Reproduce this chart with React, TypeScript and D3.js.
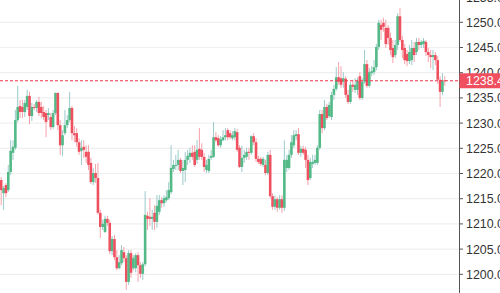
import React from "react";
import * as d3 from "d3";

// [open, high, low, close]
const ohlc: [number, number, number, number][] = [
  [1218.7, 1219.3, 1213.7, 1216.7], [1216.1, 1217.5, 1212.8, 1217.1], [1217.7, 1218.1, 1215.3, 1216.1],
  [1216.7, 1221.7, 1216.3, 1220.3], [1220.3, 1226.6, 1219.7, 1224.5], [1224.1, 1226.6, 1222.7, 1225.3],
  [1225.1, 1232.6, 1224.7, 1230.6], [1230.6, 1237.4, 1230.2, 1233.2], [1233.4, 1234.6, 1231.0, 1232.2],
  [1233.2, 1234.6, 1231.0, 1232.2], [1232.2, 1234.6, 1231.2, 1234.0], [1233.2, 1236.6, 1232.6, 1235.4],
  [1235.4, 1236.2, 1229.8, 1231.4], [1231.4, 1234.0, 1230.4, 1233.2], [1233.2, 1233.8, 1232.6, 1233.0],
  [1233.0, 1234.6, 1232.2, 1234.2], [1234.2, 1235.2, 1231.4, 1232.0], [1233.2, 1234.2, 1231.0, 1232.0],
  [1232.2, 1233.4, 1230.6, 1231.2], [1232.0, 1232.6, 1227.2, 1230.2], [1231.6, 1233.0, 1230.6, 1232.0],
  [1231.2, 1232.0, 1228.6, 1229.2], [1229.2, 1232.6, 1228.8, 1232.0], [1232.0, 1236.0, 1231.6, 1236.0],
  [1236.0, 1236.0, 1228.6, 1229.6], [1229.6, 1230.6, 1223.7, 1225.6], [1225.6, 1228.6, 1223.5, 1227.6],
  [1228.0, 1232.6, 1227.6, 1229.6], [1229.6, 1231.6, 1229.0, 1230.6], [1230.6, 1236.2, 1230.2, 1233.0],
  [1233.0, 1233.4, 1226.6, 1228.0], [1228.0, 1229.4, 1226.2, 1227.6], [1228.0, 1229.0, 1225.3, 1226.2],
  [1226.2, 1227.0, 1223.7, 1224.3], [1224.5, 1226.6, 1221.7, 1225.1], [1225.3, 1226.6, 1223.1, 1224.7],
  [1224.3, 1225.6, 1222.1, 1223.3], [1224.3, 1225.6, 1220.7, 1221.7], [1222.1, 1223.1, 1217.9, 1218.3],
  [1218.3, 1221.1, 1217.7, 1220.1], [1220.1, 1221.9, 1218.1, 1219.1], [1219.1, 1222.1, 1211.8, 1212.2],
  [1212.2, 1212.8, 1207.2, 1209.4], [1209.4, 1210.8, 1208.8, 1210.0], [1208.4, 1211.6, 1208.2, 1211.0],
  [1211.0, 1211.6, 1209.6, 1210.2], [1210.2, 1210.8, 1204.0, 1204.6], [1204.6, 1207.6, 1203.8, 1207.0],
  [1207.0, 1207.8, 1202.8, 1203.4], [1203.4, 1204.8, 1200.8, 1201.2], [1201.2, 1203.8, 1201.0, 1202.4],
  [1202.2, 1205.8, 1201.8, 1204.8], [1204.4, 1205.4, 1202.4, 1203.2], [1203.2, 1203.8, 1196.9, 1198.5],
  [1198.5, 1204.8, 1197.9, 1204.2], [1204.2, 1204.8, 1199.3, 1200.3], [1201.2, 1203.8, 1200.8, 1203.2],
  [1201.2, 1204.2, 1200.4, 1203.8], [1203.8, 1204.4, 1198.5, 1201.8], [1201.8, 1202.4, 1199.3, 1200.1],
  [1200.1, 1202.4, 1198.9, 1202.0], [1202.0, 1216.5, 1201.6, 1211.8], [1211.6, 1212.4, 1208.8, 1211.0],
  [1211.4, 1215.1, 1209.6, 1211.0], [1211.0, 1212.8, 1208.8, 1211.4], [1212.2, 1213.7, 1208.8, 1210.4],
  [1210.4, 1215.7, 1209.2, 1213.6], [1212.4, 1215.7, 1211.8, 1214.7], [1214.7, 1215.3, 1213.2, 1214.1],
  [1214.1, 1215.7, 1213.4, 1215.1], [1214.7, 1216.7, 1214.3, 1215.3], [1215.1, 1218.3, 1214.7, 1216.7],
  [1216.3, 1225.6, 1215.9, 1221.1], [1220.9, 1222.7, 1220.3, 1221.7], [1221.5, 1223.7, 1220.7, 1221.7],
  [1221.7, 1224.7, 1220.7, 1222.7], [1222.7, 1223.1, 1220.1, 1220.5], [1220.5, 1222.7, 1217.7, 1221.1],
  [1220.7, 1224.3, 1218.3, 1222.7], [1222.7, 1224.7, 1221.7, 1223.5], [1223.3, 1225.1, 1222.1, 1224.1],
  [1224.1, 1225.6, 1222.7, 1223.3], [1224.3, 1225.6, 1221.3, 1221.7], [1222.7, 1226.6, 1221.9, 1224.7],
  [1224.9, 1229.0, 1222.7, 1223.3], [1224.7, 1226.0, 1222.7, 1223.3], [1223.3, 1224.1, 1220.3, 1221.3],
  [1220.7, 1222.7, 1220.1, 1221.7], [1220.5, 1223.7, 1220.1, 1222.9], [1223.1, 1224.7, 1222.7, 1223.5],
  [1223.3, 1230.2, 1223.1, 1227.2], [1227.2, 1228.2, 1226.2, 1226.6], [1227.0, 1227.6, 1225.3, 1225.6],
  [1225.6, 1227.4, 1225.1, 1226.8], [1226.6, 1228.6, 1226.4, 1227.2], [1227.2, 1229.0, 1226.6, 1227.6],
  [1228.6, 1229.0, 1226.6, 1227.2], [1228.0, 1228.6, 1226.8, 1227.2], [1227.0, 1228.4, 1226.6, 1227.6],
  [1227.2, 1229.0, 1226.6, 1228.4], [1228.2, 1228.8, 1224.3, 1224.7], [1225.1, 1225.6, 1221.1, 1221.3],
  [1221.3, 1225.5, 1220.3, 1223.1], [1223.1, 1224.7, 1222.1, 1223.7], [1223.3, 1225.1, 1222.7, 1224.3],
  [1224.3, 1225.1, 1222.7, 1224.1], [1224.1, 1227.6, 1223.7, 1227.4], [1227.4, 1228.0, 1225.6, 1226.2],
  [1226.2, 1227.0, 1222.3, 1222.9], [1222.9, 1223.5, 1221.9, 1222.3], [1222.9, 1223.3, 1221.5, 1221.9],
  [1221.7, 1223.3, 1221.3, 1222.9], [1221.7, 1222.7, 1219.7, 1220.1], [1220.1, 1224.3, 1219.7, 1223.7],
  [1223.7, 1224.7, 1215.1, 1215.5], [1215.5, 1216.1, 1212.8, 1213.4], [1213.4, 1215.7, 1212.8, 1214.9],
  [1214.9, 1215.3, 1212.4, 1213.2], [1213.2, 1215.7, 1212.8, 1214.9], [1214.9, 1215.7, 1212.2, 1213.2],
  [1213.2, 1226.6, 1212.6, 1222.7], [1221.1, 1223.7, 1220.3, 1222.7], [1221.1, 1224.7, 1220.7, 1223.7],
  [1223.7, 1227.6, 1223.1, 1226.2], [1225.6, 1228.6, 1225.1, 1227.6], [1227.4, 1228.6, 1226.6, 1227.8],
  [1227.8, 1229.0, 1223.7, 1224.1], [1224.1, 1225.5, 1223.3, 1224.9], [1224.9, 1225.5, 1223.7, 1224.1],
  [1224.7, 1225.3, 1221.1, 1222.7], [1222.7, 1223.7, 1217.7, 1218.7], [1219.1, 1223.1, 1218.7, 1222.3],
  [1221.9, 1223.7, 1221.1, 1222.3], [1222.1, 1223.7, 1221.7, 1222.7], [1222.1, 1225.6, 1221.7, 1225.1],
  [1225.1, 1232.6, 1224.7, 1231.8], [1231.8, 1232.6, 1228.0, 1229.0], [1229.0, 1234.6, 1228.6, 1233.2],
  [1233.2, 1233.8, 1230.6, 1231.0], [1231.4, 1234.2, 1231.0, 1233.6], [1231.2, 1236.2, 1230.6, 1235.6],
  [1235.6, 1237.6, 1234.6, 1236.8], [1236.8, 1241.1, 1236.4, 1239.1], [1239.1, 1242.1, 1237.6, 1238.2],
  [1238.9, 1241.3, 1237.0, 1237.6], [1238.2, 1240.1, 1237.0, 1238.9], [1238.8, 1239.3, 1235.0, 1235.6],
  [1235.6, 1236.6, 1233.8, 1234.2], [1234.2, 1238.2, 1233.8, 1237.6], [1237.6, 1238.6, 1236.2, 1237.2],
  [1236.6, 1238.9, 1236.0, 1237.6], [1236.6, 1239.1, 1235.6, 1238.4], [1239.3, 1240.1, 1234.6, 1235.0],
  [1235.0, 1238.9, 1234.6, 1238.2], [1238.2, 1244.5, 1237.8, 1241.7], [1241.7, 1242.5, 1237.0, 1237.4],
  [1237.4, 1240.9, 1237.0, 1240.1], [1239.9, 1241.3, 1239.3, 1240.3], [1240.1, 1242.5, 1239.5, 1241.1],
  [1241.1, 1245.7, 1240.5, 1245.1], [1245.1, 1250.5, 1244.5, 1249.9], [1249.5, 1250.5, 1246.5, 1248.5],
  [1249.9, 1250.9, 1248.1, 1249.1], [1248.9, 1250.5, 1244.9, 1245.7], [1248.9, 1249.5, 1245.5, 1246.9],
  [1246.9, 1247.9, 1243.5, 1244.5], [1244.9, 1246.5, 1241.9, 1243.1], [1243.5, 1246.5, 1242.9, 1245.5],
  [1245.5, 1251.8, 1244.5, 1251.2], [1251.2, 1252.8, 1246.1, 1246.5], [1246.5, 1247.3, 1242.9, 1244.5],
  [1244.9, 1245.7, 1241.7, 1242.5], [1243.7, 1244.5, 1241.3, 1242.3], [1242.3, 1245.5, 1241.7, 1244.1],
  [1242.5, 1246.5, 1241.5, 1244.9], [1244.9, 1246.1, 1242.1, 1243.5], [1244.1, 1246.9, 1243.5, 1246.1],
  [1246.1, 1246.9, 1244.5, 1245.5], [1245.5, 1246.5, 1244.9, 1246.1], [1245.7, 1246.9, 1244.9, 1246.3],
  [1246.1, 1246.5, 1243.3, 1244.1], [1244.1, 1244.9, 1242.1, 1243.5], [1243.5, 1244.5, 1240.9, 1243.1],
  [1243.1, 1244.5, 1240.5, 1243.5], [1243.5, 1244.1, 1241.5, 1242.5], [1242.5, 1243.3, 1237.8, 1238.6],
  [1238.6, 1239.3, 1233.2, 1236.2], [1236.2, 1239.9, 1235.6, 1238.4], [1238.5, 1239.3, 1237.4, 1238.4],
];

const yTicks = [1200, 1205, 1210, 1215, 1220, 1225, 1230, 1235, 1240, 1245, 1250, 1255];
const currentPrice = 1238.4;

const W = 500;
const H = 293;
const AXIS_X = 459;

const UP = "#53b987";
const DOWN = "#ef5060";
const UP_WICK = "#9ccaca";
const DOWN_WICK = "#f4a2aa";

export default function App() {
  const x = d3.scaleLinear().domain([0, ohlc.length - 1]).range([1.2, 444.8]);
  const y = d3.scaleLinear().domain([1200, 1250]).range([274.3, 22.3]);
  const bw = 2.6;
  const py = y(currentPrice);
  const fs = 12.4;

  return (
    <svg
      width={W}
      height={H}
      style={{ position: "absolute", left: 0, top: 0, background: "#fff" }}
      fontFamily="'Liberation Sans', Arial, sans-serif"
    >
      {yTicks.map((t) => (
        <line key={"g" + t} x1={0} x2={AXIS_X} y1={y(t)} y2={y(t)} stroke="#efefef" strokeWidth={1.2} />
      ))}
      <g>
        {ohlc.map(([o, h, l, c], i) => (
          <line
            key={"w" + i}
            x1={x(i)}
            x2={x(i)}
            y1={y(h)}
            y2={y(l)}
            stroke={c >= o ? UP_WICK : DOWN_WICK}
            strokeWidth={1}
          />
        ))}
      </g>
      <g>
        {ohlc.map(([o, h, l, c], i) => {
          const top = y(Math.max(o, c));
          const bot = y(Math.min(o, c));
          return (
            <rect
              key={"b" + i}
              x={x(i) - bw / 2}
              y={top}
              width={bw}
              height={Math.max(1, bot - top)}
              fill={c >= o ? UP : DOWN}
            />
          );
        })}
      </g>
      <line
        x1={0}
        x2={AXIS_X}
        y1={py}
        y2={py}
        stroke="#f0374a"
        strokeWidth={1}
        strokeDasharray="3,2"
      />
      <line x1={AXIS_X + 0.5} x2={AXIS_X + 0.5} y1={0} y2={H} stroke="#555" strokeWidth={1} />
      {yTicks.map((t) => (
        <g key={"t" + t}>
          <line x1={AXIS_X} x2={AXIS_X + 4} y1={y(t)} y2={y(t)} stroke="#555" strokeWidth={1} />
          <text x={AXIS_X + 7} y={y(t)} dy="0.36em" fontSize={fs} fill="#333">
            {d3.format(".1f")(t)}
          </text>
        </g>
      ))}
      <rect x={AXIS_X + 0.5} y={py - 7.5} width={W - AXIS_X} height={15} fill="#ef4f5f" />
      <text x={AXIS_X + 7} y={py} dy="0.36em" fontSize={fs} fill="#fff">
        {d3.format(".1f")(currentPrice)}
      </text>
    </svg>
  );
}
